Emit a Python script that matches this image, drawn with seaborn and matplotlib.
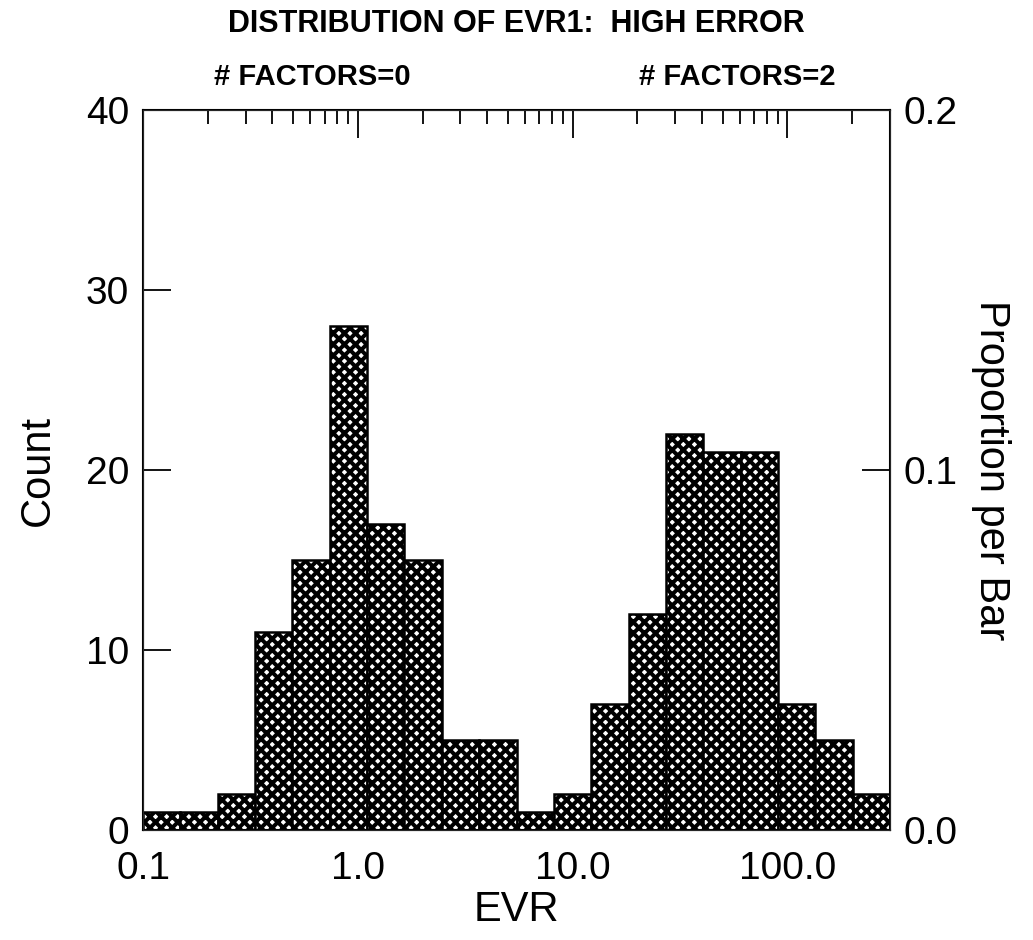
import numpy as np
import pandas as pd
import matplotlib
matplotlib.use("Agg")
import matplotlib.pyplot as plt
import seaborn as sns

# ---- data ----
counts = [1, 1, 2, 11, 15, 28, 17, 15, 5, 5, 1, 2, 7, 12, 22, 21, 21, 7, 5, 2]
x_min, x_max = 0.1, 300.0            # axis / bin range, 20 equal log-width bins
x_ticks = [0.1, 1.0, 10.0, 100.0]
x_ticklabels = ["0.1", "1.0", "10.0", "100.0"]
y_ticks = [0, 10, 20, 30, 40]
prop_ticks = [0.0, 0.1, 0.2]
prop_ticklabels = ["0.0", "0.1", "0.2"]
title = "DISTRIBUTION OF EVR1:  HIGH ERROR"
group_labels = ["# FACTORS=0", "# FACTORS=2"]

log_lo, log_hi = np.log10(x_min), np.log10(x_max)
log_edges = np.linspace(log_lo, log_hi, len(counts) + 1)
centers = 10 ** ((log_edges[:-1] + log_edges[1:]) / 2)
df = pd.DataFrame({"EVR": centers, "count": counts})
total = sum(counts)

sns.set_style("ticks")
plt.rcParams["font.family"] = ["Liberation Sans", "DejaVu Sans"]
for k in ["text.color", "axes.labelcolor", "xtick.color", "ytick.color"]:
    plt.rcParams[k] = "black"
plt.rcParams["hatch.linewidth"] = 2.9

fig = plt.figure(figsize=(10.33, 9.4), dpi=100)
ax = fig.add_axes([143 / 1033, 1 - 830 / 940, 747 / 1033, 720 / 940])

sns.histplot(data=df, x="EVR", weights="count", bins=len(counts),
             binrange=(log_lo, log_hi), log_scale=True, ax=ax,
             facecolor="white", alpha=1, edgecolor="black", linewidth=1.8,
             hatch="xxx")

ax.set_xlim(x_min, x_max)
ax.set_ylim(0, 40)
ax.set_xticks(x_ticks)
ax.set_xticklabels(x_ticklabels)
ax.set_yticks(y_ticks)
ax.tick_params(axis="x", which="both", bottom=False, top=True, labelbottom=True,
               direction="in", labelsize=28, pad=15)
ax.tick_params(axis="x", which="major", length=20, width=1.3)
ax.tick_params(axis="x", which="minor", length=10, width=1.3)
ax.tick_params(axis="y", which="major", left=True, direction="in", length=20,
               width=1.3, labelsize=28, pad=10)
ax.set_xlabel("EVR", fontsize=30, labelpad=2)
ax.set_ylabel("Count", fontsize=30, labelpad=20)
for s in ax.spines.values():
    s.set_visible(True)
    s.set_linewidth(1.5)
    s.set_color("black")

ax2 = ax.twinx()
ax2.set_ylim(0, 40 / total)
ax2.set_yticks(prop_ticks)
ax2.set_yticklabels(prop_ticklabels)
ax2.tick_params(axis="y", direction="in", length=20, width=1.3, labelsize=28, pad=10)
ax2.set_ylabel("Proportion per Bar", fontsize=30, rotation=-90, labelpad=38)

fig.text((143 + 890) / 2 / 1033, 1 - 24 / 940, title, ha="center", va="center",
         fontsize=22, fontweight="bold")
ax.text(0.226, 1.046, group_labels[0], transform=ax.transAxes, ha="center",
        va="center", fontsize=21, fontweight="bold")
ax.text(0.795, 1.046, group_labels[1], transform=ax.transAxes, ha="center",
        va="center", fontsize=21, fontweight="bold")

fig.savefig("out.png", dpi=100, facecolor="white")
